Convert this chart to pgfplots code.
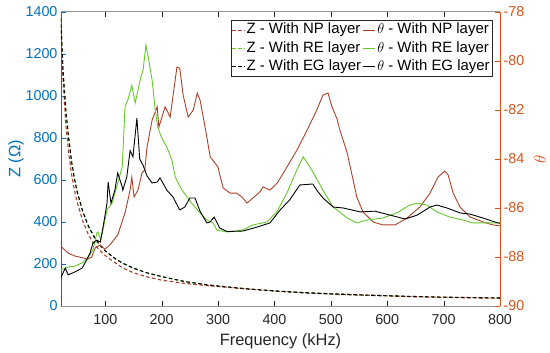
\documentclass[border=0pt]{standalone}
\usepackage{fontspec}
\setmainfont{Liberation Sans}
\usepackage{pgfplots}
\pgfplotsset{compat=1.18}
\definecolor{zblue}{RGB}{0,114,189}
\definecolor{thorange}{RGB}{217,83,25}
\definecolor{npred}{RGB}{170,65,40}
\definecolor{regreen}{RGB}{100,200,40}
\definecolor{axgray}{RGB}{150,150,150}
\definecolor{txtgray}{RGB}{38,38,38}

\pgfplotstableread{
f Z
21 1370
25 1080
30 860
35 730
40 630
45 555
50 495
60 405
70 340
80 295
90 265
100 240
115 210
130 183
150 158
175 138
200 123
240 108
280 97
300 93
350 81
400 71
450 63
500 57
550 52
600 48
650 44
700 41
750 39
800 37
}\zNP

\pgfplotstableread{
f Z
21 1370
25 1120
30 930
35 800
40 690
45 610
50 545
60 450
70 380
80 330
90 290
100 262
115 230
130 205
150 180
175 157
200 140
240 117
280 101
300 95
350 82
400 72
450 64
500 58
550 53
600 49
650 45
700 42
750 40
800 38
}\zEG

\pgfplotstableread{
f T
21 -87.56
34 -87.84
46 -87.96
69 -88.08
76 -88.00
82 -87.63
91 -87.51
99 -87.68
108 -87.51
122 -87.10
135 -86.20
144 -85.27
147 -84.74
151 -85.55
158 -85.27
165 -84.57
170 -84.45
174 -83.51
183 -82.41
192 -81.87
195 -82.70
206 -81.87
215 -82.29
227 -80.25
232 -80.29
238 -81.39
247 -82.29
256 -82.00
263 -81.31
268 -81.59
277 -82.70
286 -83.91
300 -84.33
303 -84.65
309 -85.18
321 -85.39
333 -85.39
344 -85.59
351 -85.80
362 -85.59
374 -85.35
380 -85.14
392 -85.27
405 -84.98
419 -84.45
440 -83.63
458 -82.82
475 -82.00
486 -81.39
495 -81.31
502 -81.87
511 -82.37
516 -82.82
529 -83.75
546 -85.55
557 -86.16
575 -86.57
592 -86.69
614 -86.69
635 -86.41
658 -85.96
676 -85.39
690 -84.74
702 -84.49
708 -84.65
717 -85.39
729 -85.96
747 -86.37
770 -86.57
787 -86.69
800 -86.73
}\tNP

\pgfplotstableread{
f T
21 -88.53
34 -88.41
46 -88.37
59 -88.24
69 -88.04
78 -87.71
85 -87.02
87 -86.98
92 -87.31
103 -86.08
112 -85.80
122 -84.98
130 -84.33
135 -81.86
140 -81.59
147 -81.00
153 -81.71
158 -81.18
163 -80.66
167 -80.37
172 -79.35
176 -79.83
183 -80.78
188 -81.87
193 -82.70
200 -83.14
209 -83.51
218 -84.04
224 -84.74
236 -85.27
250 -85.71
268 -86.20
280 -86.49
291 -86.61
298 -86.90
316 -86.98
344 -86.90
362 -86.69
387 -86.57
404 -86.16
422 -85.39
440 -84.43
451 -83.91
463 -84.33
486 -85.27
504 -85.96
511 -86.08
529 -86.41
546 -86.61
564 -86.49
592 -86.41
617 -86.20
640 -85.88
653 -85.80
670 -85.88
688 -86.16
711 -86.37
734 -86.49
752 -86.61
800 -86.61
}\tRE

\pgfplotstableread{
f T
21 -88.86
29 -88.45
34 -88.73
46 -88.61
59 -88.45
64 -88.24
73 -87.84
78 -87.43
85 -87.31
91 -87.39
96 -86.78
103 -85.80
105 -84.94
110 -85.80
117 -85.27
122 -84.57
130 -85.14
131 -85.27
138 -84.74
144 -83.66
149 -83.91
156 -82.33
161 -84.00
167 -84.26
174 -84.69
183 -84.98
192 -84.94
197 -84.77
209 -85.27
220 -85.55
232 -86.08
241 -85.96
250 -85.59
259 -85.59
268 -86.13
280 -86.61
286 -86.57
293 -86.37
303 -86.82
316 -86.96
344 -86.94
369 -86.78
392 -86.61
410 -86.08
427 -85.67
445 -85.06
468 -85.02
475 -85.27
486 -85.59
504 -85.96
522 -86.00
552 -86.16
578 -86.13
605 -86.29
632 -86.45
653 -86.29
676 -85.96
688 -85.88
706 -86.00
729 -86.20
747 -86.25
770 -86.41
796 -86.61
800 -86.62
}\tEG

\begin{document}
\begin{tikzpicture}
\pgfplotsset{
  every axis/.append style={
    scale only axis, width=439bp, height=294bp,
    xmin=21.4, xmax=800,
    tick align=inside,
    major tick length=5bp,
    /pgf/number format/assume math mode=true,
    /pgf/number format/set thousands separator={},
    tick label style={font=\fontsize{14.4}{16}\selectfont},
    label style={font=\fontsize{16.5}{19}\selectfont},
  },
  zdash/.style={line width=1.1pt, dash pattern=on 3.5pt off 2.5pt},
  tline/.style={line width=0.9pt, solid},
}
\begin{axis}[
  axis y line*=left, axis x line*=box,
  ymin=0, ymax=1400, ytick={0,200,...,1400},
  xtick={100,200,...,800},
  y axis line style={zblue, line width=0.8pt},
  x axis line style={axgray, line width=1pt},
  xtick style={txtgray},
  ytick style={zblue},
  yticklabel style={zblue},
  xticklabel style={txtgray},
  xticklabel shift=5bp,
  ylabel={Z (Ω)},
  ylabel style={zblue, at={(axis description cs:0,0.5)}, anchor=center, rotate=0, yshift=45bp},
  xlabel={Frequency (kHz)},
  xlabel style={txtgray, at={(axis description cs:0.5,0)}, anchor=center, yshift=-35.5bp},
]
\addplot[zdash, regreen] table[x=f, y=Z] \zEG;
\addplot[zdash, npred] table[x=f, y=Z] \zNP;
\addplot[zdash, black] table[x=f, y=Z] \zEG;
\end{axis}
\begin{axis}[
  axis y line*=right, axis x line=none,
  ymin=-90, ymax=-78, ytick={-90,-88,...,-78},
  xtick={100,200,...,800},
  y axis line style={thorange, line width=0.8pt},
  ytick style={thorange},
  yticklabel style={thorange},
  ylabel={$\theta$},
  ylabel style={thorange, at={(axis description cs:1,0.5)}, anchor=center, rotate=0, yshift=-40bp},
  legend columns=2,
  legend cell align=left,
  legend style={at={(1,1)}, anchor=north east, xshift=-8bp, yshift=-8bp,
    font=\fontsize{15}{17}\selectfont, draw=txtgray, line width=0.5pt, fill=white,
    inner xsep=0.5pt, inner ysep=1pt, row sep=0pt,
    nodes={text height=10.5bp, text depth=3.2bp, inner xsep=1.6bp, inner ysep=2.2bp}},
  legend image code/.code={\draw[#1] (0bp,0bp) -- (12bp,0bp);},
]
\addplot[tline, npred, forget plot] table[x=f, y=T] \tNP;
\addplot[tline, regreen, forget plot] table[x=f, y=T] \tRE;
\addplot[tline, black, forget plot] table[x=f, y=T] \tEG;
\addlegendimage{zdash, npred}
\addlegendentry{Z - With NP layer}
\addlegendimage{tline, npred}
\addlegendentry{$\theta$ - With NP layer}
\addlegendimage{zdash, regreen}
\addlegendentry{Z - With RE layer}
\addlegendimage{tline, regreen}
\addlegendentry{$\theta$ - With RE layer}
\addlegendimage{zdash, black}
\addlegendentry{Z - With EG layer}
\addlegendimage{tline, black}
\addlegendentry{$\theta$ - With EG layer}
\end{axis}
\pgfresetboundingbox
\path[use as bounding box] (-61bp,-47bp) rectangle (489bp,306bp);
\end{tikzpicture}
\end{document}
